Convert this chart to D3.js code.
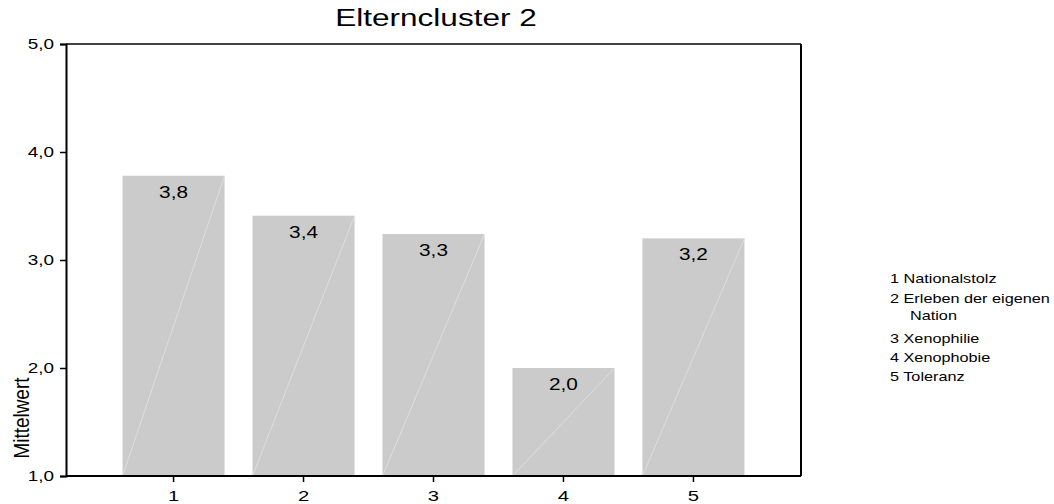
<!DOCTYPE html>
<html><head><meta charset="utf-8">
<script src="https://cdn.jsdelivr.net/npm/d3@7"></script>
<style>body{margin:0;background:#fff}svg{display:block}text{font-family:"Liberation Sans",Arial,sans-serif;fill:#000}</style>
</head><body>
<script>
const title = "Elterncluster 2";
const categories = ["1","2","3","4","5"];
const values = [3.78, 3.41, 3.24, 2.00, 3.20];
const valueLabels = ["3,8","3,4","3,3","2,0","3,2"];
const yTicks = [1,2,3,4,5];
const yTickLabels = ["1,0","2,0","3,0","4,0","5,0"];
const yLabel = "Mittelwert";
const legendItems = [["1 Nationalstolz"],["2 Erleben der eigenen","Nation"],["3 Xenophilie"],["4 Xenophobie"],["5 Toleranz"]];

const W=1054,H=504;
const L=66,R=801,T=44,B=476;
const svg=d3.select("body").append("svg").attr("width",W).attr("height",H);

const x=d3.scaleBand().domain(categories).range([L,R]).paddingInner(0.215).paddingOuter(0.435);
const y=d3.scaleLinear().domain([1,5]).range([B,T]);

function stext(g,xp,yp,str,size,sx,anchor){
  const gg=g.append("g").attr("transform",`translate(${xp},${yp})`);
  gg.append("text").attr("transform",`scale(${sx},1)`).attr("text-anchor",anchor||"middle")
    .style("font-size",size+"px").text(str);
  return gg;
}

// title
stext(svg,436,26,title,23,1.37);

// bars
const bars=svg.append("g");
categories.forEach((c,i)=>{
  const x0=x(c),w=x.bandwidth(),yt=y(values[i]);
  bars.append("rect").attr("x",x0).attr("y",yt).attr("width",w).attr("height",y(1)-yt).attr("fill","#cbcbcb");
  bars.append("line").attr("x1",x0).attr("y1",y(1)).attr("x2",x0+w).attr("y2",yt)
    .attr("stroke","#e2e2e2").attr("stroke-width",0.8);
  stext(bars,x0+w/2,yt+22,valueLabels[i],16,1.3);
});

// frame top/right
svg.append("line").attr("x1",L).attr("x2",R).attr("y1",T).attr("y2",T).attr("stroke","#444").attr("stroke-width",2);
svg.append("line").attr("x1",R).attr("x2",R).attr("y1",T).attr("y2",B).attr("stroke","#000").attr("stroke-width",2);

// y axis
const ya=svg.append("g").attr("transform",`translate(${L},0)`)
  .call(d3.axisLeft(y).tickValues(yTicks).tickSize(6).tickFormat(""));
ya.select(".domain").attr("stroke","#000").attr("stroke-width",2);
ya.selectAll(".tick line").attr("stroke","#000").attr("stroke-width",1.5);
yTicks.forEach((v,i)=>stext(svg,L-12,y(v)+5,yTickLabels[i],14,1.35,"end"));

// x axis
const xa=svg.append("g").attr("transform",`translate(0,${B})`)
  .call(d3.axisBottom(x).tickSize(6).tickSizeOuter(0).tickFormat(""));
xa.select(".domain").attr("stroke","#000").attr("stroke-width",2).attr("d",`M${L},0H${R}`);
xa.selectAll(".tick line").attr("stroke","#000").attr("stroke-width",1.5);
categories.forEach(c=>stext(svg,x(c)+x.bandwidth()/2,501,c,15,1.35));

// y label
svg.append("text").attr("transform",`translate(29,418) rotate(-90) scale(0.86,1)`).attr("text-anchor","middle")
  .style("font-size","22px").text(yLabel);

// legend
const legY=[283,303,343,362,381];
legendItems.forEach((it,i)=>{
  stext(svg,890,legY[i],it[0],12.5,1.3,"start");
  if(it[1]) stext(svg,910,legY[i]+17,it[1],12.5,1.3,"start");
});
</script>
</body></html>
